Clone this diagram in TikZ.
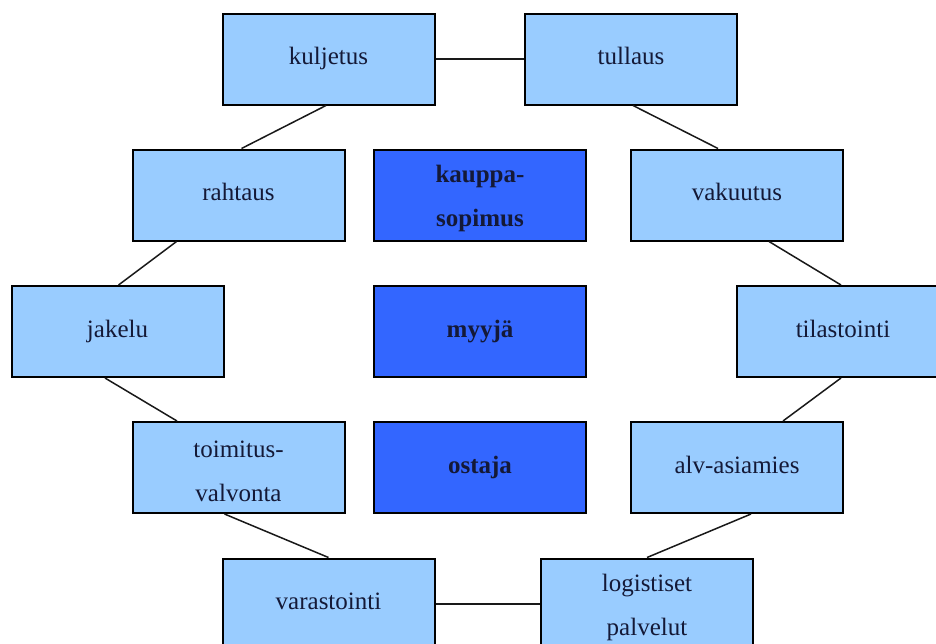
\documentclass[tikz,border=0pt]{standalone}
\usepackage{fontspec}
\setmainfont{Liberation Serif}
\usetikzlibrary{calc}
\definecolor{lightbox}{RGB}{153,204,255}
\definecolor{darkbox}{RGB}{51,102,255}
\definecolor{ink}{RGB}{20,25,55}
\newcommand{\toppad}{\rule{0pt}{25pt}}
\tikzset{
  boxbase/.style={draw=black, line width=2pt, minimum width=212pt, minimum height=91pt,
    inner sep=0pt, align=center, text=ink, text height=17pt, text depth=6pt,
    font=\fontsize{25}{44}\selectfont},
  twoline/.style={text height={}, text depth={}},
  lightnode/.style={boxbase, fill=lightbox},
  darknode/.style={boxbase, fill=darkbox, font=\fontsize{25}{44}\selectfont\bfseries},
  link/.style={draw=black!90, line width=1.5pt}
}
\begin{document}
\begin{tikzpicture}[x=1pt,y=-1pt]
\useasboundingbox (0,0) rectangle (936,643);
\fill[white] (0,0) rectangle (936,643);
\clip (0,0) rectangle (936,643);
% nodes
\node[lightnode] (kul) at (328.5,59) {kuljetus};
\node[lightnode] (tul) at (631,59) {tullaus};
\node[lightnode] (rah) at (238.5,195) {rahtaus};
\node[darknode,twoline]  (kau) at (480,195) {\toppad kauppa-\\sopimus};
\node[lightnode] (vak) at (737,195) {vakuutus};
\node[lightnode] (jak) at (117.5,331.5) {jakelu};
\node[darknode]  (myy) at (480,331.5) {myyjä};
\node[lightnode] (til) at (843,331.5) {tilastointi};
\node[lightnode,twoline] (toi) at (238.5,467.5) {\toppad toimitus-\\valvonta};
\node[darknode]  (ost) at (480,467.5) {ostaja};
\node[lightnode] (alv) at (737,467.5) {alv-asiamies};
\node[lightnode] (var) at (328.5,604) {varastointi};
\node[lightnode,twoline] (log) at (647,604) {\toppad logistiset\\palvelut};
% connectors
\draw[link] (kul.east) -- (tul.west);
\draw[link] (var.east) -- (log.west);
\draw[link] ($(kul.south)+(-2.5,0)$) -- ($(rah.north)+(3,0)$);
\draw[link] ($(tul.south)+(2,0)$) -- ($(vak.north)+(-19,0)$);
\draw[link] ($(rah.south)+(-62,0)$) -- ($(jak.north)+(1,0)$);
\draw[link] ($(jak.south)+(-12.5,0)$) -- ($(toi.north)+(-61.5,0)$);
\draw[link] ($(toi.south)+(-14,0)$) -- (var.north);
\draw[link] ($(vak.south)+(32,0)$) -- ($(til.north)+(-2,0)$);
\draw[link] ($(til.south)+(-2,0)$) -- ($(alv.north)+(46,0)$);
\draw[link] ($(alv.south)+(14,0)$) -- (log.north);
\end{tikzpicture}
\end{document}
